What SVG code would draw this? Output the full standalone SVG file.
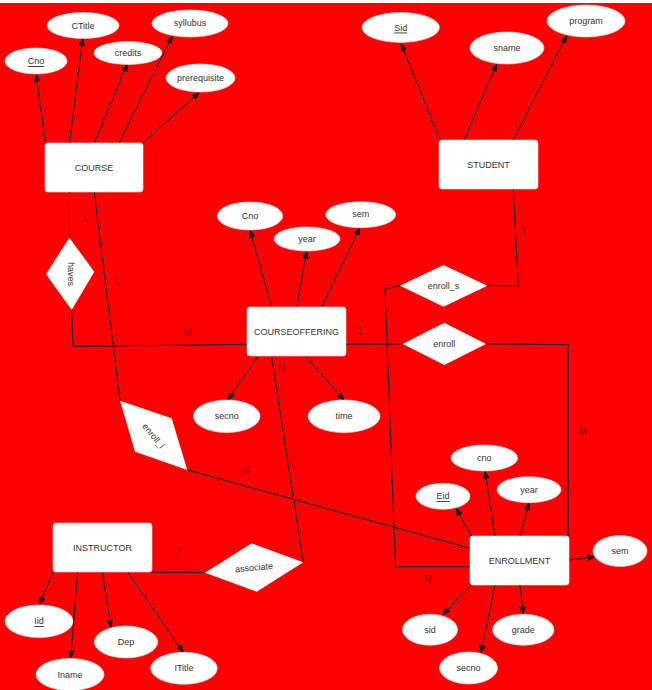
<svg xmlns="http://www.w3.org/2000/svg" width="652" height="690" viewBox="0 0 652 690">
  <style>
    .ent { fill: #fff; stroke: #e6e6e6; stroke-width: 0.6; }
    .att { fill: #fff; stroke: #e6e6e6; stroke-width: 0.6; }
    .rel { fill: #fff; stroke: none; }
    .t { font-family: "Liberation Sans", Arial, sans-serif; font-size: 9px; fill: #333; text-anchor: middle; dominant-baseline: central; }
    .u { text-decoration: underline; }
    .card { font-family: "Liberation Sans", Arial, sans-serif; font-size: 10px; fill: #8a0000; text-anchor: middle; dominant-baseline: central; }
    .ln { fill: none; stroke: #000; stroke-width: 1; }
    .arr { fill: none; stroke: #000; stroke-width: 1; marker-end: url(#tip); }
  </style>
  <defs>
    <marker id="tip" markerUnits="userSpaceOnUse" markerWidth="8" markerHeight="8" viewBox="0 0 8 8" refX="7.5" refY="4" orient="auto">
      <path d="M0,0.8 L8,4 L0,7.2 Z" fill="#000"/>
    </marker>
  </defs>

  <!-- canvas -->
  <rect x="0" y="0" width="652" height="690" fill="#fff"/>
  <rect x="0" y="3" width="652" height="687" fill="#ff0000"/>

  <!-- connectors -->
  <g id="connectors">
    <!-- COURSE attributes -->
    <line class="arr" x1="45.5" y1="143" x2="36" y2="74"/>
    <line class="arr" x1="69.5" y1="143" x2="82.7" y2="38.5"/>
    <line class="arr" x1="94.3" y1="143" x2="127.3" y2="64"/>
    <line class="arr" x1="119" y1="143" x2="172.3" y2="36"/>
    <line class="arr" x1="143" y1="143" x2="199.3" y2="92.3"/>
    <!-- STUDENT attributes -->
    <line class="arr" x1="440" y1="140" x2="401" y2="43.5"/>
    <line class="arr" x1="464" y1="140" x2="496.7" y2="64"/>
    <line class="arr" x1="513.3" y1="140" x2="566.7" y2="35.5"/>
    <!-- COURSEOFFERING attributes -->
    <line class="arr" x1="271.7" y1="307" x2="250" y2="230"/>
    <line class="arr" x1="296.7" y1="307" x2="306.7" y2="251"/>
    <line class="arr" x1="321.7" y1="307" x2="360" y2="227.7"/>
    <line class="arr" x1="257.7" y1="357" x2="227.7" y2="400"/>
    <line class="arr" x1="306" y1="357" x2="344" y2="400"/>
    <!-- ENROLLMENT attributes -->
    <line class="arr" x1="495" y1="536" x2="485" y2="471"/>
    <line class="arr" x1="471.7" y1="536" x2="456" y2="508.3"/>
    <line class="arr" x1="520" y1="536" x2="529" y2="502.7"/>
    <line class="arr" x1="569.3" y1="560" x2="595" y2="556.7"/>
    <line class="arr" x1="471" y1="585" x2="442.7" y2="615"/>
    <line class="arr" x1="495" y1="585" x2="481" y2="652.7"/>
    <line class="arr" x1="520" y1="585" x2="523.3" y2="614.3"/>
    <!-- INSTRUCTOR attributes -->
    <line class="arr" x1="53.5" y1="572" x2="39.3" y2="604.5"/>
    <line class="arr" x1="77.7" y1="572" x2="70.7" y2="658.3"/>
    <line class="arr" x1="102.3" y1="572" x2="111" y2="627.3"/>
    <line class="arr" x1="127.7" y1="572" x2="183.3" y2="652.3"/>

    <!-- relationships -->
    <polyline class="ln" points="69.5,192 69.5,238"/>
    <polyline class="ln" points="71.7,310 73,346.5 247,344.3"/>
    <polyline class="ln" points="94.3,192 120,400.5"/>
    <polyline class="ln" points="187.3,470 470,548.3"/>
    <polyline class="ln" points="346,344.3 402.7,344"/>
    <polyline class="ln" points="486,344 568.3,344.7 568.3,536"/>
    <polyline class="ln" points="513.3,189 518.3,285.7 487.3,285.7"/>
    <polyline class="ln" points="400,285.7 385,289 395.5,566.7 470,566.7"/>
    <polyline class="ln" points="152,572.3 205,572.5"/>
    <polyline class="ln" points="271.7,357 303.3,562"/>
  </g>

  <!-- cardinalities -->
  <g id="cardinalities">
    <text class="card" x="85" y="217">1</text>
    <text class="card" x="117" y="281">1</text>
    <text class="card" x="188" y="332">M</text>
    <text class="card" x="360" y="330">1</text>
    <text class="card" x="282" y="367">M</text>
    <text class="card" x="524" y="230">1</text>
    <text class="card" x="583" y="431">M</text>
    <text class="card" x="246" y="470">M</text>
    <text class="card" x="179" y="551">1</text>
    <text class="card" x="428" y="579">M</text>
  </g>

  <!-- entities -->
  <g id="course">
    <rect class="ent" x="45" y="143" width="98" height="49" rx="3"/>
    <text class="t" x="94" y="168">COURSE</text>
  </g>
  <g id="student">
    <rect class="ent" x="439" y="140" width="99" height="49" rx="3"/>
    <text class="t" x="488.5" y="165">STUDENT</text>
  </g>
  <g id="courseoffering">
    <rect class="ent" x="247" y="307" width="99" height="49" rx="3"/>
    <text class="t" x="296.5" y="332">COURSEOFFERING</text>
  </g>
  <g id="enrollment">
    <rect class="ent" x="470" y="536" width="99" height="49" rx="3"/>
    <text class="t" x="519.5" y="560.5">ENROLLMENT</text>
  </g>
  <g id="instructor">
    <rect class="ent" x="53" y="523" width="99" height="49" rx="3"/>
    <text class="t" x="102.5" y="547.5">INSTRUCTOR</text>
  </g>

  <!-- relationships -->
  <g id="haves">
    <polygon class="rel" points="69.3,237.7 94.3,271.7 71.7,310 46,274.3"/>
    <text class="t" transform="translate(70.5,274) rotate(90)">haves</text>
  </g>
  <g id="enroll_I">
    <polygon class="rel" points="120,400.7 171.7,418.3 187.3,470 135,451.7"/>
    <text class="t" transform="translate(153.5,436) rotate(50)">enroll_I</text>
  </g>
  <g id="enroll_s">
    <polygon class="rel" points="400,285.7 443.5,265 487.3,285.7 443.5,306.7"/>
    <text class="t" x="443.5" y="286">enroll_s</text>
  </g>
  <g id="enroll">
    <polygon class="rel" points="402.7,344 444.3,322.7 486,344 444.3,365"/>
    <text class="t" x="444.3" y="344">enroll</text>
  </g>
  <g id="associate">
    <polygon class="rel" points="205,572.7 251.7,543.3 303.3,562.3 256.7,591.7"/>
    <text class="t" transform="translate(254,567.5) rotate(-5)">associate</text>
  </g>

  <!-- COURSE attributes -->
  <g id="course-cno">
    <ellipse class="att" cx="36" cy="61" rx="31" ry="13"/>
    <text class="t u" x="36" y="61">Cno</text>
  </g>
  <g id="course-ctitle">
    <ellipse class="att" cx="83" cy="25.5" rx="36" ry="13"/>
    <text class="t" x="83" y="25.5">CTitle</text>
  </g>
  <g id="course-credits">
    <ellipse class="att" cx="128" cy="53" rx="34" ry="11.5"/>
    <text class="t" x="128" y="52.5">credits</text>
  </g>
  <g id="course-syllubus">
    <ellipse class="att" cx="190" cy="23.5" rx="38" ry="13.5"/>
    <text class="t" x="190" y="23">syllubus</text>
  </g>
  <g id="course-prerequisite">
    <ellipse class="att" cx="200.5" cy="78" rx="34.5" ry="14"/>
    <text class="t" x="200.5" y="78">prerequisite</text>
  </g>

  <!-- STUDENT attributes -->
  <g id="student-sid">
    <ellipse class="att" cx="400.7" cy="27.5" rx="38.7" ry="15"/>
    <text class="t u" x="400.7" y="27.5">Sid</text>
  </g>
  <g id="student-sname">
    <ellipse class="att" cx="507" cy="48" rx="37" ry="16"/>
    <text class="t" x="507" y="47.5">sname</text>
  </g>
  <g id="student-program">
    <ellipse class="att" cx="586" cy="21" rx="39" ry="16"/>
    <text class="t" x="586" y="20.5">program</text>
  </g>

  <!-- COURSEOFFERING attributes -->
  <g id="offering-cno">
    <ellipse class="att" cx="250" cy="216" rx="32.7" ry="14"/>
    <text class="t" x="250" y="215.5">Cno</text>
  </g>
  <g id="offering-year">
    <ellipse class="att" cx="307" cy="239" rx="33" ry="12"/>
    <text class="t" x="307" y="238.5">year</text>
  </g>
  <g id="offering-sem">
    <ellipse class="att" cx="360.7" cy="214.7" rx="35" ry="13"/>
    <text class="t" x="360.7" y="214">sem</text>
  </g>
  <g id="offering-secno">
    <ellipse class="att" cx="226.7" cy="416.3" rx="33.3" ry="16.3"/>
    <text class="t" x="226.7" y="416">secno</text>
  </g>
  <g id="offering-time">
    <ellipse class="att" cx="344" cy="416.3" rx="36" ry="16.3"/>
    <text class="t" x="344" y="416">time</text>
  </g>

  <!-- ENROLLMENT attributes -->
  <g id="enrollment-cno">
    <ellipse class="att" cx="484.3" cy="458" rx="33.3" ry="13"/>
    <text class="t" x="484.3" y="457.5">cno</text>
  </g>
  <g id="enrollment-eid">
    <ellipse class="att" cx="443" cy="496.3" rx="27" ry="13"/>
    <text class="t u" x="443" y="496">Eid</text>
  </g>
  <g id="enrollment-year">
    <ellipse class="att" cx="529" cy="489.7" rx="32" ry="13"/>
    <text class="t" x="529" y="489.5">year</text>
  </g>
  <g id="enrollment-sem">
    <ellipse class="att" cx="620" cy="551" rx="27" ry="15.5"/>
    <text class="t" x="620" y="550.5">sem</text>
  </g>
  <g id="enrollment-sid">
    <ellipse class="att" cx="430" cy="629.7" rx="27.5" ry="15.5"/>
    <text class="t" x="430" y="629.5">sid</text>
  </g>
  <g id="enrollment-grade">
    <ellipse class="att" cx="523.3" cy="629.7" rx="30.7" ry="15.5"/>
    <text class="t" x="523.3" y="629.5">grade</text>
  </g>
  <g id="enrollment-secno">
    <ellipse class="att" cx="468.5" cy="668" rx="29" ry="16"/>
    <text class="t" x="468.5" y="667.5">secno</text>
  </g>

  <!-- INSTRUCTOR attributes -->
  <g id="instructor-iid">
    <ellipse class="att" cx="39" cy="621.3" rx="34" ry="16.3"/>
    <text class="t u" x="39" y="621">Iid</text>
  </g>
  <g id="instructor-iname">
    <ellipse class="att" cx="70" cy="674.5" rx="34" ry="16"/>
    <text class="t" x="70" y="674.5">Iname</text>
  </g>
  <g id="instructor-dep">
    <ellipse class="att" cx="126" cy="642" rx="31.7" ry="16"/>
    <text class="t" x="126" y="642">Dep</text>
  </g>
  <g id="instructor-ititle">
    <ellipse class="att" cx="184" cy="668.3" rx="33.3" ry="16"/>
    <text class="t" x="184" y="668">ITitle</text>
  </g>
</svg>
